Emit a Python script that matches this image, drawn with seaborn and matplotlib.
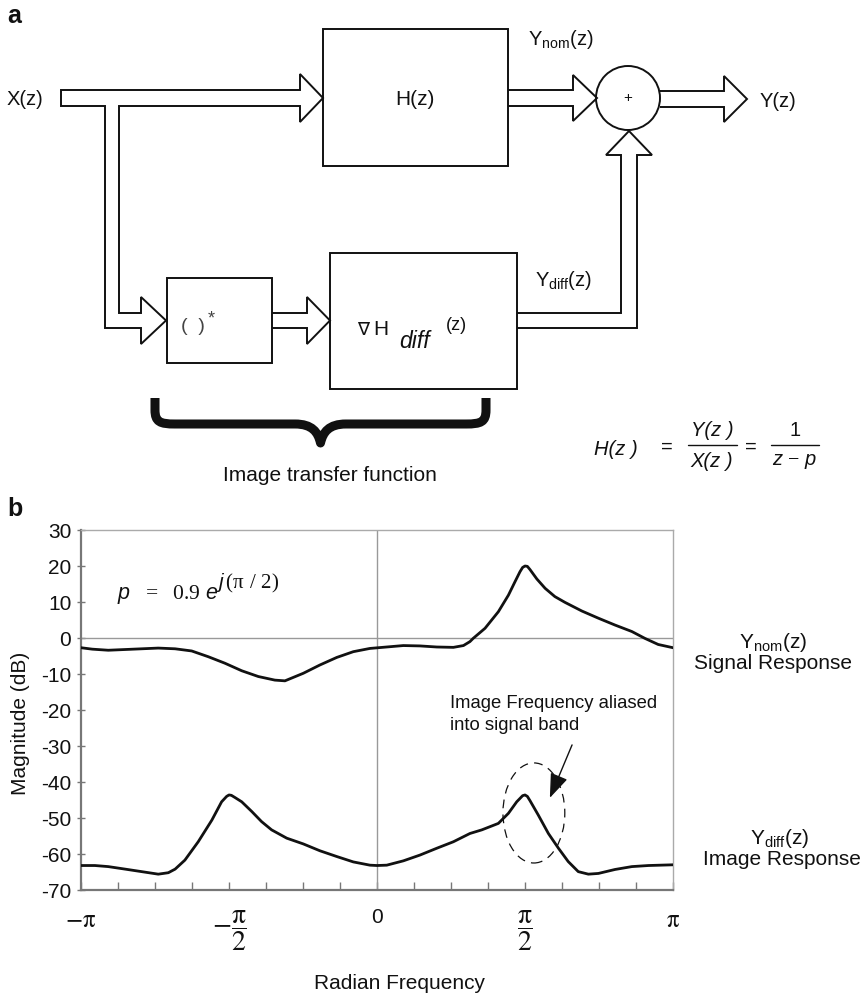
import numpy as np
import matplotlib
matplotlib.use('Agg')
import matplotlib.pyplot as plt
import seaborn as sns
from matplotlib.patches import Polygon, Rectangle, Circle, Ellipse, PathPatch
from matplotlib.path import Path
from matplotlib.ticker import MultipleLocator

# ---------------- data (frequency in units of pi, magnitude in dB) ----------------
freq_nom = [-1.000, -0.962, -0.908, -0.851, -0.795, -0.739, -0.682, -0.626, -0.570,
            -0.514, -0.457, -0.401, -0.345, -0.311, -0.249, -0.193, -0.136, -0.080,
            -0.024, 0.089, 0.145, 0.202, 0.258, 0.292, 0.314, 0.325, 0.365, 0.410,
            0.444, 0.466, 0.483, 0.492, 0.500, 0.508, 0.517, 0.540, 0.568, 0.601,
            0.635, 0.692, 0.748, 0.804, 0.861, 0.905, 0.950, 1.000]
mag_nom = [-2.7, -3.1, -3.4, -3.2, -3.0, -2.8, -3.0, -3.6, -5.2,
           -7.0, -9.1, -10.7, -11.7, -11.9, -9.8, -7.5, -5.4, -3.8,
           -2.9, -2.1, -2.2, -2.5, -2.6, -2.1, -1.0, -0.1, 2.7, 7.3,
           11.9, 15.6, 18.4, 19.6, 20.0, 19.9, 19.0, 16.4, 13.8, 11.5,
           9.9, 7.5, 5.5, 3.6, 1.8, -0.1, -1.8, -2.7]

freq_diff = [-1.000, -0.953, -0.908, -0.851, -0.795, -0.739, -0.705, -0.682, -0.649,
             -0.604, -0.558, -0.525, -0.508, -0.500, -0.492, -0.480, -0.457, -0.423,
             -0.390, -0.356, -0.305, -0.249, -0.193, -0.136, -0.080, -0.024, 0.000,
             0.033, 0.089, 0.145, 0.202, 0.258, 0.314, 0.354, 0.410, 0.444, 0.472,
             0.492, 0.500, 0.508, 0.517, 0.545, 0.579, 0.613, 0.646, 0.680, 0.714,
             0.748, 0.804, 0.861, 0.917, 1.000]
mag_diff = [-63.2, -63.2, -63.5, -64.2, -64.9, -65.6, -65.2, -64.2, -61.7,
            -56.6, -50.6, -45.5, -44.0, -43.6, -43.7, -44.3, -45.5, -48.2,
            -51.0, -53.3, -55.6, -57.2, -59.1, -60.7, -62.2, -63.1, -63.2,
            -63.1, -61.9, -60.3, -58.4, -56.6, -54.3, -53.3, -51.5, -48.7, -45.5,
            -43.8, -43.6, -44.0, -45.2, -49.2, -54.3, -58.4, -62.1, -64.9, -65.6,
            -65.4, -64.3, -63.5, -63.2, -63.0]

y_ticks = [30, 20, 10, 0, -10, -20, -30, -40, -50, -60, -70]
y_tick_labels = ['30', '20', '10', '0', '-10', '-20', '-30', '-40', '-50', '-60', '-70']
x_ticks = [-1.0, -0.5, 0.0, 0.5, 1.0]
x_tick_labels = [r'$-\mathrm{\pi}$', r'$-\dfrac{\mathrm{\pi}}{2}$', '0',
                 r'$\dfrac{\mathrm{\pi}}{2}$', r'$\mathrm{\pi}$']

# ---------------- style ----------------
sns.set_theme(style='white')
plt.rcParams['font.family'] = ['Liberation Sans', 'DejaVu Sans']
plt.rcParams['mathtext.fontset'] = 'custom'
plt.rcParams['mathtext.rm'] = 'Liberation Serif'
plt.rcParams['mathtext.it'] = 'Liberation Sans:italic'
plt.rcParams['mathtext.sf'] = 'Liberation Sans'
plt.rcParams['mathtext.bf'] = 'Liberation Sans:bold'

W, H = 863, 996
fig = plt.figure(figsize=(W / 100, H / 100), dpi=100)
fig.patch.set_facecolor('white')

# ---------------- panel b: plot ----------------
ax = fig.add_axes([81 / W, 1 - 890 / H, 592 / W, 360 / H])
ax.set_facecolor('white')
ax.axhline(0, color='#999999', lw=1.0, zorder=1)
ax.axvline(0, color='#999999', lw=1.0, zorder=1)
sns.lineplot(x=freq_nom, y=mag_nom, ax=ax, color='#111111', lw=2.0, sort=False,
             estimator=None, zorder=3)
sns.lineplot(x=freq_diff, y=mag_diff, ax=ax, color='#111111', lw=2.0, sort=False,
             estimator=None, zorder=3)
for ln in ax.lines:
    ln.set_solid_joinstyle('round')
ax.set_xlim(-1, 1)
ax.set_ylim(-70, 30)

for side in ['left', 'bottom']:
    ax.spines[side].set_color('#777777')
    ax.spines[side].set_linewidth(1.6)
for side in ['top', 'right']:
    ax.spines[side].set_color('#aaaaaa')
    ax.spines[side].set_linewidth(1.0)

ax.set_yticks(y_ticks)
ax.set_yticklabels(y_tick_labels, fontsize=15, color='#111111')
ax.set_xticks(x_ticks)
ax.set_xticklabels(x_tick_labels, fontsize=18, color='#111111')
ax.xaxis.set_minor_locator(MultipleLocator(0.125))
ax.tick_params(axis='y', which='both', direction='inout', length=6, width=1,
               color='#777777', pad=4, left=True)
ax.tick_params(axis='x', which='both', direction='in', length=6, width=1,
               color='#777777', pad=13, bottom=True)
for lbl in ax.get_xticklabels():
    lbl.set_math_fontfamily('stix')
    txt = lbl.get_text()
    if txt == '0':
        lbl.set_fontfamily(['Liberation Sans'])
        lbl.set_fontsize(15)
    elif 'frac' in txt:
        lbl.set_fontsize(20)

ax.set_ylabel('Magnitude (dB)', fontsize=15, color='#111111')
ax.yaxis.set_label_coords((21 - 81) / 592, (890 - 723) / 360)
ax.yaxis.label.set_va('center')
ax.set_xlabel('Radian Frequency', fontsize=15, color='#111111')
ax.xaxis.set_label_coords((399 - 81) / 592, -(983 - 890) / 360)
ax.xaxis.label.set_va('center')

# annotation: dashed ellipse and arrow
ax.add_patch(Ellipse((0.530, -48.6), width=0.209, height=27.8, fill=False,
                     ec='#111111', lw=0.9, ls=(0, (7, 5)), zorder=4))
ax.annotate('', xy=(0.584, -44.4), xytext=(0.659, -29.7),
            arrowprops=dict(arrowstyle='-|>,head_length=0.75,head_width=0.28',
                            color='#111111', lw=1.0, shrinkA=0, shrinkB=0,
                            mutation_scale=20), zorder=4)

# ---------------- overlay in pixel coordinates ----------------
dax = fig.add_axes([0, 0, 1, 1], zorder=5)
dax.set_xlim(0, W)
dax.set_ylim(H, 0)
dax.axis('off')
dax.patch.set_visible(False)

lc = '#111111'
lw = 1.4

def poly(pts, closed=False):
    dax.add_patch(Polygon(pts, closed=closed, fill=False, ec=lc, lw=lw,
                          joinstyle='miter'))

# input arrow with branch
poly([(61, 90), (300, 90), (300, 74), (323, 98), (300, 122), (300, 106), (119, 106),
      (119, 313), (141, 313), (141, 297), (166, 320.5), (141, 344), (141, 328),
      (105, 328), (105, 106), (61, 106)], closed=True)
# between ()* and grad H
poly([(272, 313), (307, 313), (307, 297), (330, 320.5), (307, 344), (307, 328), (272, 328)])
# H -> sum
poly([(508, 90), (573, 90), (573, 75), (597, 98), (573, 121), (573, 106), (508, 106)])
# sum -> output
poly([(660, 91), (724, 91), (724, 76), (747, 99), (724, 122), (724, 107), (660, 107)])
# diff -> sum (upward)
poly([(517, 313), (621, 313), (621, 155), (606, 155), (629, 131), (652, 155),
      (637, 155), (637, 328), (517, 328)])

# boxes and summing node
for (x0, y0, w, h) in [(323, 29, 185, 137), (167, 278, 105, 85), (330, 253, 187, 136)]:
    dax.add_patch(Rectangle((x0, y0), w, h, fill=False, ec=lc, lw=lw))
dax.add_patch(Circle((628, 98), 32, fill=False, ec=lc, lw=lw))

# curly brace
verts = [(155, 398), (155, 410),
         (155, 422), (160, 424), (175, 424),
         (295, 424),
         (312, 424), (318, 432), (320.5, 443),
         (323, 432), (329, 424), (346, 424),
         (466, 424),
         (481, 424), (486, 422), (486, 410),
         (486, 398)]
codes = [Path.MOVETO, Path.LINETO,
         Path.CURVE4, Path.CURVE4, Path.CURVE4,
         Path.LINETO,
         Path.CURVE4, Path.CURVE4, Path.CURVE4,
         Path.CURVE4, Path.CURVE4, Path.CURVE4,
         Path.LINETO,
         Path.CURVE4, Path.CURVE4, Path.CURVE4,
         Path.LINETO]
dax.add_patch(PathPatch(Path(verts, codes), fill=False, ec=lc, lw=6.5,
                        capstyle='butt', joinstyle='round'))

# texts of the diagram
t = dict(color=lc, va='center')
dax.text(7, 16, 'a', fontsize=18, fontweight='bold', ha='left', **t)
dax.text(7, 99, 'X(z)', fontsize=14.5, ha='left', **t)
dax.text(415, 99, 'H(z)', fontsize=15, ha='center', **t)
dax.text(528, 39, r'Y$_{\mathsf{nom}}$(z)', fontsize=14.5, ha='left', **t)
dax.text(628, 98, '+', fontsize=11, ha='center', **t)
dax.text(760, 101, 'Y(z)', fontsize=14.5, ha='left', **t)
dax.text(181, 326, '(  )', fontsize=14, ha='left', color='#444444', va='center')
dax.text(208, 319, '*', fontsize=13, ha='left', color='#444444', va='center')
dax.text(357, 329, '\u2207', fontsize=13, ha='left', family=['DejaVu Sans'], **t)
dax.text(373, 329, 'H', fontsize=15, ha='left', **t)
dax.text(399, 341, 'diff', fontsize=16.5, ha='left', style='italic', **t)
dax.text(446, 325, '(z)', fontsize=13, ha='left', **t)
dax.text(535, 280, r'Y$_{\mathsf{diff}}$(z)', fontsize=14.5, ha='left', **t)
dax.text(330, 475, 'Image transfer function', fontsize=15, ha='center', **t)

# formula H(z) = Y(z)/X(z) = 1/(z-p)
fs = 14.5
dax.text(594, 449, 'H(z )', fontsize=fs, style='italic', ha='left', **t)
dax.text(667, 447, '=', fontsize=fs, ha='center', **t)
dax.text(712, 430, 'Y(z )', fontsize=fs, style='italic', ha='center', **t)
dax.plot([688, 737], [445, 445], color=lc, lw=1.0)
dax.text(712, 461, 'X(z )', fontsize=fs, style='italic', ha='center', **t)
dax.text(751, 447, '=', fontsize=fs, ha='center', **t)
dax.text(795, 430, '1', fontsize=fs, ha='center', **t)
dax.plot([771, 819], [445, 445], color=lc, lw=1.0)
dax.text(795, 461, r'z $-$ p', fontsize=fs, style='italic', ha='center', **t)

# texts of panel b
dax.text(7, 509, 'b', fontsize=18, fontweight='bold', ha='left', **t)
dax.text(117, 599, r'$p\ \ =\ \ 0.9\ e$', fontsize=15.5, ha='left', va='baseline',
         color=lc)
dax.text(216, 588, r'$j\,(\mathrm{\pi}\ /\ 2)$', fontsize=15, ha='left',
         va='baseline', color=lc)
dax.text(773, 642, r'Y$_{\mathsf{nom}}$(z)', fontsize=15, ha='center', **t)
dax.text(773, 663, 'Signal Response', fontsize=15, ha='center', **t)
dax.text(780, 838, r'Y$_{\mathsf{diff}}$(z)', fontsize=15, ha='center', **t)
dax.text(782, 859, 'Image Response', fontsize=15, ha='center', **t)
dax.text(450, 703, 'Image Frequency aliased', fontsize=13.3, ha='left', **t)
dax.text(450, 725, 'into signal band', fontsize=13.3, ha='left', **t)

fig.savefig('out.png', dpi=100, facecolor='white')
